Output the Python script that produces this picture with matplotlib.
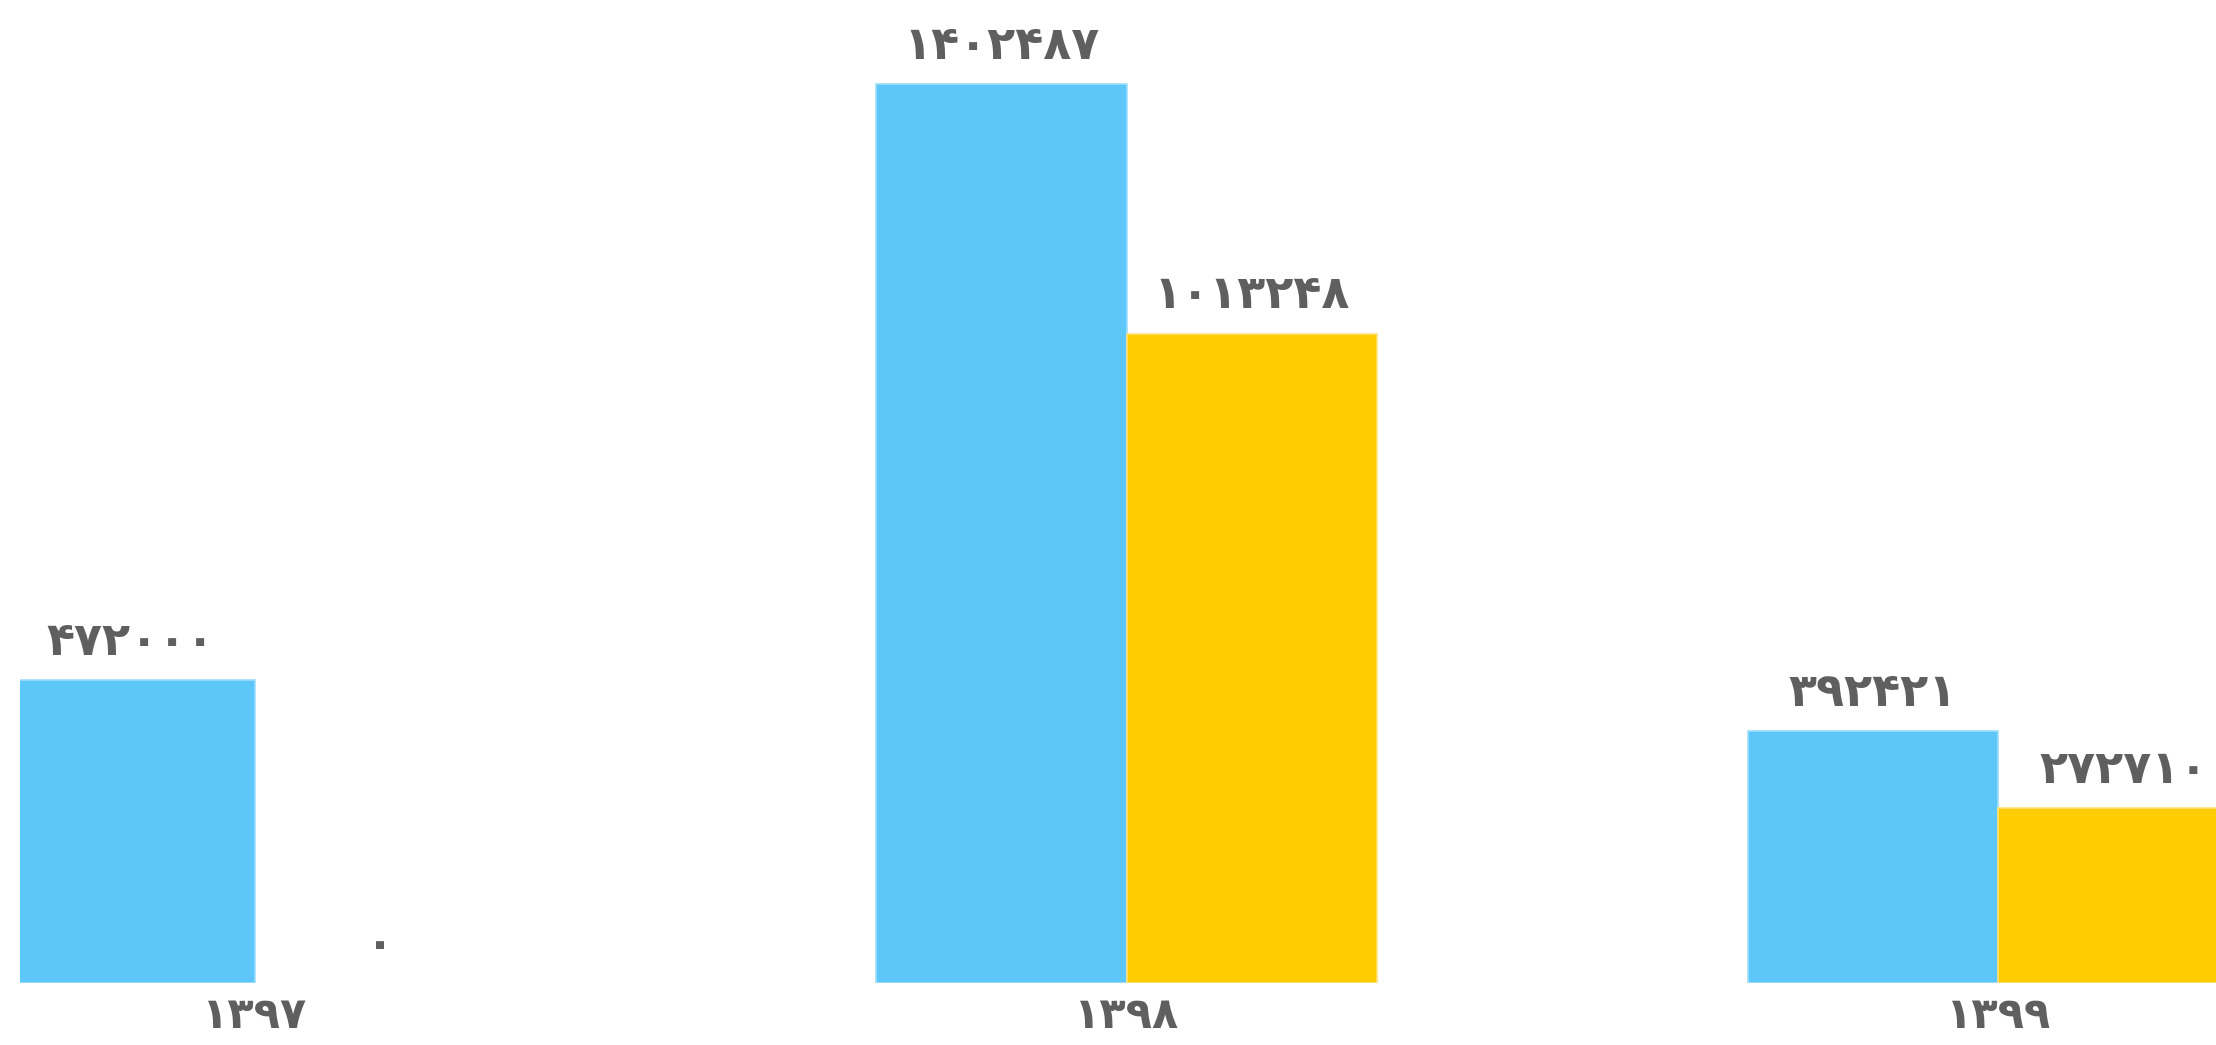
import matplotlib
matplotlib.use('Agg')
import matplotlib.pyplot as plt
import numpy as np

plt.rcParams['font.family'] = ['DejaVu Sans']

# داده‌ها
years = ['۱۳۹۷', '۱۳۹۸', '۱۳۹۹']
blue_vals = [472000, 1402487, 392421]
yellow_vals = [0, 1013248, 272710]

blue_color = '#5DC7FA'
yellow_color = '#FFCC00'
text_color = '#5F5F5F'


def fa(n):
    return str(n).translate(str.maketrans('0123456789', '۰۱۲۳۴۵۶۷۸۹'))


fig = plt.figure(figsize=(22.16, 10.45), dpi=100)
ax = fig.add_axes([20 / 2216, 62 / 1045, 1 - 20 / 2216, 983 / 1045])

x = np.arange(len(years))
w = 0.287
b1 = ax.bar(x - w / 2, blue_vals, w, color=blue_color,
            edgecolor=['#9FDDFB' if v else 'none' for v in blue_vals], linewidth=1.2)
b2 = ax.bar(x + w / 2, yellow_vals, w, color=yellow_color,
            edgecolor=['#FFE27A' if v else 'none' for v in yellow_vals], linewidth=1.2)

for bars, vals in [(b1, blue_vals), (b2, yellow_vals)]:
    for r, v in zip(bars, vals):
        ax.annotate(fa(v), (r.get_x() + r.get_width() / 2, r.get_height()),
                    xytext=(0, 11), textcoords='offset points',
                    ha='center', va='bottom', fontsize=33, fontweight='bold',
                    color=text_color, annotation_clip=False)

ax.set_xlim(-0.2697, 2.250)
ax.set_ylim(0, 1533525)
ax.set_xticks(x)
ax.set_xticklabels(years, fontsize=31, fontweight='bold', color=text_color)
ax.tick_params(axis='x', length=0, pad=9)
ax.set_yticks([])
for s in ax.spines.values():
    s.set_visible(False)

fig.savefig('out.png', dpi=100)
